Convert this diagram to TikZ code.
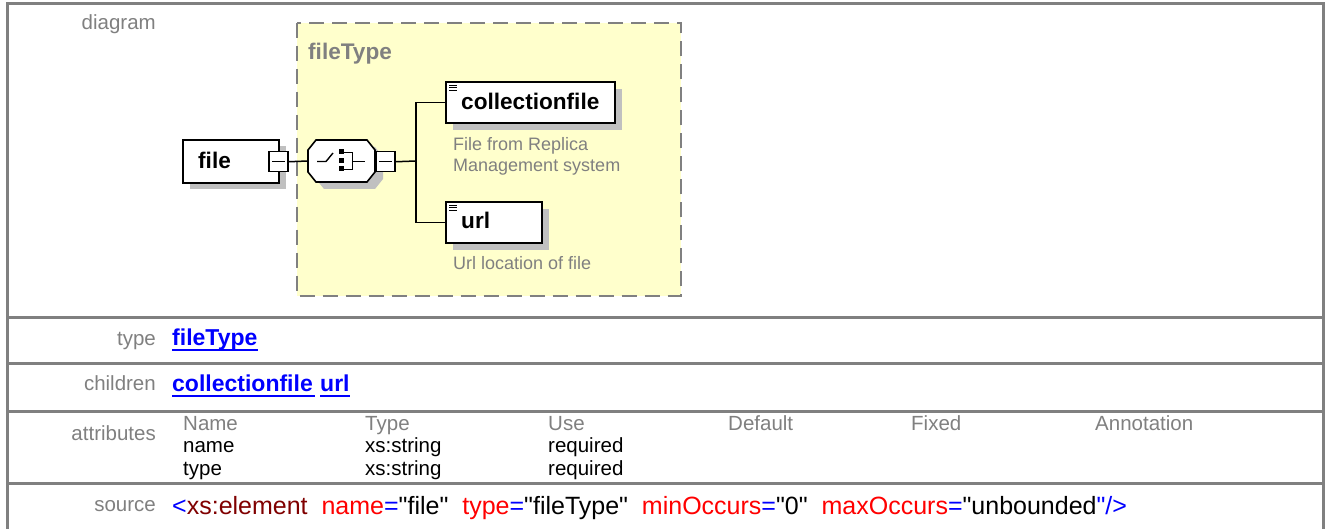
\documentclass[tikz,border=0pt]{standalone}
\usepackage{fontspec}
\setmainfont{Liberation Sans}
\newfontfamily\codefont{Liberation Sans}[Ligatures=TeXOff]
\definecolor{tgray}{HTML}{808080}
\definecolor{shc}{HTML}{C0C0C0}
\definecolor{yel}{HTML}{FFFFCC}
\definecolor{lblue}{HTML}{0000FF}
\definecolor{dred}{HTML}{800000}
\definecolor{xred}{HTML}{FF0000}
\begin{document}
\begin{tikzpicture}[x=1pt,y=-1pt,
  lbl/.style={font=\fontsize{20.5}{24}\selectfont, text=tgray, anchor=base east, inner sep=0pt},
  val/.style={font=\fontsize{23}{27}\selectfont\bfseries, text=lblue, anchor=base west, inner sep=0pt},
  att/.style={font=\fontsize{20.5}{24}\selectfont, anchor=base west, inner sep=0pt},
  atth/.style={att, text=tgray},
  code/.style={font=\codefont\fontsize{25}{29}\selectfont, anchor=base west, inner sep=0pt},
  ebox/.style={draw=black, line width=1.6pt, fill=white, anchor=north west, inner sep=0pt},
  mbox/.style={draw=black, line width=1.5pt, fill=white, minimum width=19pt, minimum height=20pt, anchor=north west, inner sep=0pt},
  ename/.style={font=\fontsize{22.6}{26}\selectfont\bfseries, anchor=base west, inner sep=0pt},
  desc/.style={font=\fontsize{18}{21}\selectfont, text=tgray, anchor=base west, inner sep=0pt},
  tline/.style={draw=tgray, line width=3pt},
  conn/.style={draw=black, line width=1.5pt},
  uline/.style={draw=lblue, line width=2pt},
  icon/.style={draw=black, line width=1pt},
  sym/.style={draw=black, line width=1.4pt}
]
\useasboundingbox (0,0) rectangle (1327,529);
\fill[white] (0,0) rectangle (1327,529);

% table frame
\draw[tline] (7.5,529) -- (7.5,3.8) -- (1323.3,3.8) -- (1323.3,529);
\draw[tline] (7.5,317) -- (1323.3,317);
\draw[tline] (7.5,363) -- (1323.3,363);
\draw[tline] (7.5,411.5) -- (1323.3,411.5);
\draw[tline] (7.5,483) -- (1323.3,483);

% row labels
\node[lbl] (ldiag) at (156,29.3) {diagram};
\node[lbl] (ltype) at (156,345) {type};
\node[lbl] (lchild) at (156,390.7) {children};
\node[lbl] (lattr) at (156,440.7) {attributes};
\node[lbl] (lsrc) at (156,511.7) {source};

% diagram: complex type box
\draw[draw=tgray, line width=2pt, dash pattern=on 15pt off 8pt, fill=yel] (297,22.7) rectangle (681,296);
\node[ename, text=tgray] (ctname) at (308,59.3) {fileType};

% shadows
\fill[shc] (190,146) rectangle (286,189);
\fill[shc] (316,157) -- (324,147) -- (375,147) -- (383,157) -- (383,179) -- (375,189) -- (324,189) -- (316,179) -- cycle;
\fill[shc] (453,89) rectangle (622,130);
\fill[shc] (453,209) rectangle (549,250);

% element file
\node[ebox, minimum width=96pt, minimum height=43pt] (fileb) at (182,139) {};
\node[ename] (filet) at (198,168.3) {file};
\node[mbox] (fm) at (268,151) {};
\draw[line width=1.3pt] ([xshift=4pt]fm.west) -- ([xshift=-4pt]fm.east);

% sequence compositor
\draw[line width=1.6pt, fill=white] (308,150) -- (316,140) -- (367,140) -- (375,150) -- (375,172) -- (367,182) -- (316,182) -- (308,172) -- cycle;
\coordinate (seqw) at (308,161);
\draw[sym] (317,161.5) -- (326,161.5) -- (333,153);
\fill[black] (338.5,149.5) rectangle (343.5,154.5);
\fill[black] (338.5,158) rectangle (343.5,163);
\fill[black] (338.5,166) rectangle (343.5,171);
\draw[sym] (343.5,152.5) -- (352.5,152.5) -- (352.5,169.5) -- (343.5,169.5);
\draw[sym] (352.5,161.5) -- (365,161.5);
\node[mbox] (sm) at (375,151) {};
\draw[line width=1.3pt] ([xshift=4pt]sm.west) -- ([xshift=-4pt]sm.east);

% child elements
\node[ebox, minimum width=169pt, minimum height=41pt] (collb) at (445,81) {};
\draw[icon] (449,85.5) -- (457,85.5);
\draw[icon] (449,88) -- (457,88);
\draw[icon] (449,90.5) -- (457,90.5);
\node[ename] (collt) at (461,109.3) {collectionfile};
\node[desc] (colld1) at (453,150.7) {File from Replica};
\node[desc] (colld2) at (453,171.7) {Management system};

\node[ebox, minimum width=96pt, minimum height=41pt] (urlb) at (445,201) {};
\draw[icon] (449,205.5) -- (457,205.5);
\draw[icon] (449,208) -- (457,208);
\draw[icon] (449,210.5) -- (457,210.5);
\node[ename] (urlt) at (461,228.3) {url};
\node[desc] (urld) at (453,269.3) {Url location of file};

% connectors
\coordinate (br) at (416,161);
\draw[conn] (fm.east) -- (seqw);
\draw[conn] (sm.east) -- (br);
\draw[conn] (br) |- (collb.west);
\draw[conn] (br) |- (urlb.west);

% type row
\node[val] (vft) at (172,345) {fileType};
\draw[uline] ([yshift=-4.5pt]vft.base west) -- ([yshift=-4.5pt]vft.base east);

% children row
\node[val] (vcoll) at (172,391) {collectionfile};
\draw[uline] ([yshift=-4.5pt]vcoll.base west) -- ([yshift=-4.5pt,xshift=2pt]vcoll.base east);
\node[val] (vurl) at (320,391) {url};
\draw[uline] ([yshift=-4.5pt]vurl.base west) -- ([yshift=-4.5pt]vurl.base east);

% attributes row
\node[atth] (h1) at (183,430) {Name};
\node[atth] (h2) at (365,430) {Type};
\node[atth] (h3) at (548,430) {Use};
\node[atth] (h4) at (728,430) {Default};
\node[atth] (h5) at (911,430) {Fixed};
\node[atth] (h6) at (1095,430) {Annotation};
\node[att] (a11) at (183,452) {name};
\node[att] (a12) at (365,452) {xs:string};
\node[att] (a13) at (548,452) {required};
\node[att] (a21) at (183,475) {type};
\node[att] (a22) at (365,475) {xs:string};
\node[att] (a23) at (548,475) {required};

% source row
\node[code] (src) at (172,514) {\textcolor{lblue}{<}\textcolor{dred}{xs:element}\hspace{13.9pt}\textcolor{xred}{name}\textcolor{lblue}{=}"file"\hspace{13.9pt}\textcolor{xred}{type}\textcolor{lblue}{=}"fileType"\hspace{13.9pt}\textcolor{xred}{minOccurs}\textcolor{lblue}{=}"0"\hspace{13.9pt}\textcolor{xred}{maxOccurs}\textcolor{lblue}{=}"unbounded\textcolor{lblue}{"/>}};
\end{tikzpicture}
\end{document}
